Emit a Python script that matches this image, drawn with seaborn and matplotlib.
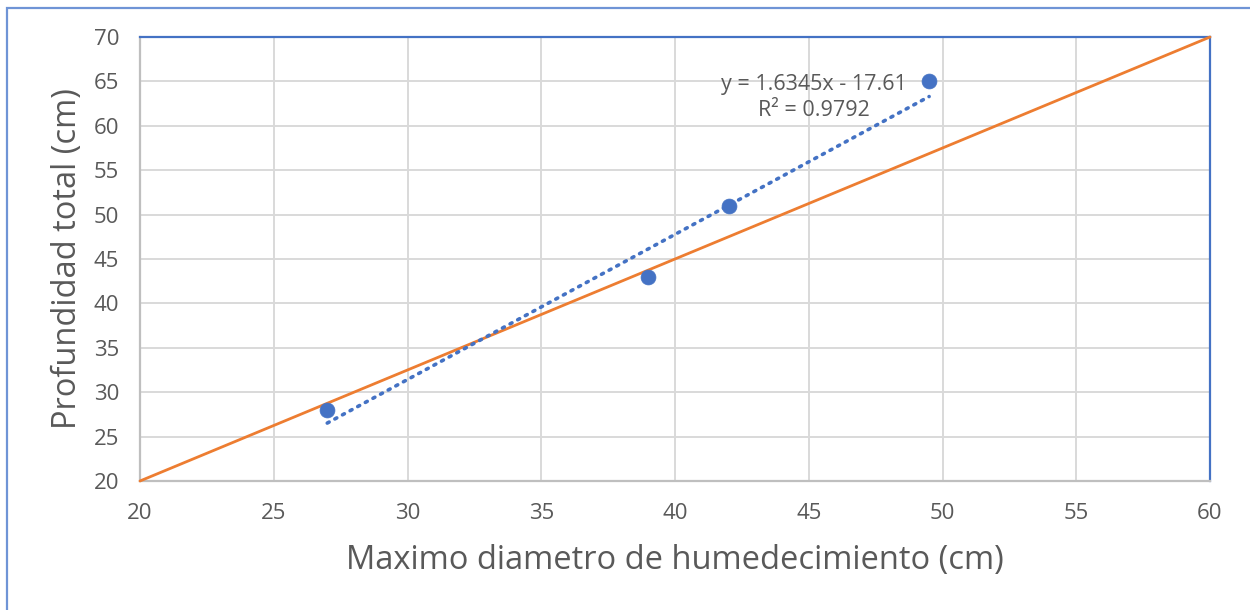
import matplotlib
matplotlib.use("Agg")
import matplotlib.pyplot as plt
import matplotlib.patches as mpatches
import numpy as np
import pandas as pd
import seaborn as sns

# Measured points
diametro = [27, 39, 42, 49.5]
profundidad = [28, 43, 51, 65]

# Reference line endpoints
ref_x = [20, 60]
ref_y = [20, 70]

# Fitted trend (shown in the equation label)
pendiente = 1.6345
intercepto = -17.61
r2 = 0.9792

x_ticks = [20, 25, 30, 35, 40, 45, 50, 55, 60]
y_ticks = [20, 25, 30, 35, 40, 45, 50, 55, 60, 65, 70]

sns.set_theme(style="white")
plt.rcParams["font.family"] = ["Open Sans", "DejaVu Sans"]

BLUE = "#4472C4"
ORANGE = "#ED7D31"
GRID = "#D9D9D9"
TEXT = "#595959"

fig = plt.figure(figsize=(12.5, 6.1), dpi=100)
ax = fig.add_axes([0.112, 0.2115, 0.856, 0.7278])

# Chart frame (top and left edges visible)
frame = mpatches.Rectangle((7 / 1250, -0.1), 1.2, 1 - 8 / 610 + 0.1,
                           transform=fig.transFigure, fill=False,
                           edgecolor="#6F94D6", linewidth=1.6, zorder=0)
fig.patches.append(frame)

df = pd.DataFrame({"x": diametro, "y": profundidad})
ref = pd.DataFrame({"x": ref_x, "y": ref_y})
tx = np.array([min(diametro), max(diametro)])
trend = pd.DataFrame({"x": tx, "y": pendiente * tx + intercepto})

sns.lineplot(data=ref, x="x", y="y", ax=ax, color=ORANGE, linewidth=2.0,
             zorder=3, clip_on=False)
sns.lineplot(data=trend, x="x", y="y", ax=ax, color=BLUE, linewidth=2.6,
             linestyle=(0, (0.6, 1.8)), dash_capstyle="round", zorder=4)
sns.scatterplot(data=df, x="x", y="y", ax=ax, color=BLUE, s=115,
                edgecolor=BLUE, linewidth=0.5, zorder=5)

ax.set_xlim(20, 60)
ax.set_ylim(20, 70)
ax.set_xticks(x_ticks)
ax.set_yticks(y_ticks)
ax.grid(True, color=GRID, linewidth=1.4)
ax.set_axisbelow(True)
ax.tick_params(axis="both", length=0, labelsize=16, labelcolor=TEXT)
ax.tick_params(axis="x", pad=16)
ax.tick_params(axis="y", pad=15)

for side in ["left", "bottom"]:
    ax.spines[side].set_color("#BFBFBF")
    ax.spines[side].set_linewidth(1.6)
for side in ["top", "right"]:
    ax.spines[side].set_color(BLUE)
    ax.spines[side].set_linewidth(1.6)

ax.set_xlabel("Maximo diametro de humedecimiento (cm)", fontsize=23.5,
              color=TEXT, labelpad=14)
ax.set_ylabel("Profundidad total (cm)", fontsize=23.5, color=TEXT, labelpad=7)

ax.text(45.2, 64.7, f"y = {pendiente}x - {abs(intercepto)}", fontsize=15.5,
        color=TEXT, ha="center", va="center")
ax.text(45.2, 61.7, f"R² = {r2}", fontsize=15.5, color=TEXT,
        ha="center", va="center")

fig.savefig("out.png", dpi=100, facecolor="white")
